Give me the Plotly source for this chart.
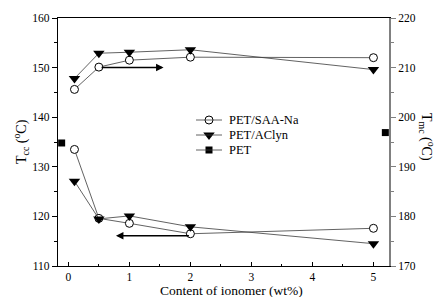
import plotly.graph_objects as go

# Data
content = [0.1, 0.5, 1, 2, 5]
saa_tcc = [133.5, 119.6, 118.6, 116.5, 117.6]
acl_tcc = [127.1, 119.5, 120.1, 117.9, 114.5]
saa_tmc = [205.6, 210.1, 211.5, 212.1, 212.0]
acl_tmc = [207.8, 212.9, 213.1, 213.6, 209.6]
pet_x_left = [-0.11]
pet_tcc = [134.8]
pet_x_right = [5.195]
pet_tmc = [196.9]
series_names = ["PET/SAA-Na", "PET/AClyn", "PET"]

# arrows: (head_x, head_y, tail_x, tail_y) on left axis scale
arrow_right = (1.56, 150.0, 0.52, 150.0)
arrow_left = (0.78, 116.1, 2.0, 116.1)

FONT = "Liberation Serif"
LINE = dict(color="#3a3a3a", width=0.8)
W, H = 436, 297
ML, MR, MT, MB = 58, 47, 18, 31
PW, PH = W - ML - MR, H - MT - MB
X0, X1 = ML, ML + PW      # plot edges in window pixels
Y0, Y1 = MT, MT + PH


def px(x):
    return (x - X0) / PW


def py(y):
    return (Y1 - y) / PH


circle = dict(symbol="circle", size=8, color="white", line=dict(width=1, color="black"))
tri = dict(symbol="triangle-down", size=10, color="black")
sq = dict(symbol="square", size=7, color="black")
markers = [circle, tri, sq]

fig = go.Figure()

common = dict(cliponaxis=False, hoverinfo="skip")
fig.add_trace(go.Scatter(x=content, y=saa_tcc, mode="lines+markers", line=LINE, marker=circle, **common))
fig.add_trace(go.Scatter(x=content, y=acl_tcc, mode="lines+markers", line=LINE, marker=tri, **common))
fig.add_trace(go.Scatter(x=pet_x_left, y=pet_tcc, mode="markers", marker=sq, **common))
fig.add_trace(go.Scatter(x=content, y=saa_tmc, mode="lines+markers", line=LINE, yaxis="y2",
                         marker=circle, **common))
fig.add_trace(go.Scatter(x=content, y=acl_tmc, mode="lines+markers", line=LINE, yaxis="y2",
                         marker=tri, **common))
fig.add_trace(go.Scatter(x=pet_x_right, y=pet_tmc, mode="markers", yaxis="y2", marker=sq, **common))

# manual legend (pixel-space overlay axes)
leg_x0, leg_x1, leg_mx, leg_tx = 196, 222, 209, 227
leg_rows = [120, 135, 150]
shapes = []
annotations = []
for name, mk, ry in zip(series_names, markers, leg_rows):
    shapes.append(dict(type="line", xref="x3", yref="y3", x0=leg_x0, x1=leg_x1, y0=ry, y1=ry,
                       line=dict(color="#3a3a3a", width=0.8)))
    fig.add_trace(go.Scatter(x=[leg_mx], y=[ry], mode="markers", marker=mk,
                             xaxis="x3", yaxis="y3", hoverinfo="skip"))
    annotations.append(dict(text=name, xref="x3", yref="y3", x=leg_tx, y=ry, xanchor="left",
                            yanchor="middle", showarrow=False,
                            font=dict(family=FONT, size=12.5, color="black")))

for (hx, hy, tx, ty) in (arrow_right, arrow_left):
    annotations.append(dict(x=hx, y=hy, ax=tx, ay=ty, xref="x", yref="y", axref="x", ayref="y",
                            showarrow=True, arrowhead=2, arrowsize=1, arrowwidth=1.5,
                            arrowcolor="black", text=""))

annotations.append(dict(text="T<sub>cc</sub> (<sup>o</sup>C)", xref="paper", yref="paper",
                        x=px(21), y=py(142), textangle=-90, showarrow=False,
                        xanchor="center", yanchor="middle",
                        font=dict(family=FONT, size=14, color="black")))
annotations.append(dict(text="T<sub>mc</sub> (<sup>o</sup>C)", xref="paper", yref="paper",
                        x=px(427), y=py(137), textangle=90, showarrow=False,
                        xanchor="center", yanchor="middle",
                        font=dict(family=FONT, size=14, color="black")))
annotations.append(dict(text="Content of ionomer (wt%)", xref="paper", yref="paper",
                        x=px(231), y=py(290), xanchor="center", yanchor="middle", showarrow=False,
                        font=dict(family=FONT, size=13.5, color="black")))

tickfont = dict(family=FONT, size=11.5, color="black")
fig.update_layout(
    width=W, height=H,
    margin=dict(l=ML, r=MR, t=MT, b=MB, pad=0),
    paper_bgcolor="white", plot_bgcolor="white",
    font=dict(family=FONT, size=12, color="black"),
    showlegend=False,
    shapes=shapes,
    annotations=annotations,
    xaxis=dict(range=[-0.17, 5.255], showline=True, linecolor="black", linewidth=1.2, mirror=True,
               tickmode="linear", tick0=0, dtick=1, ticks="inside", ticklen=4, tickcolor="black",
               minor=dict(dtick=0.5, ticks="inside", ticklen=2, tickcolor="black"),
               showgrid=False, zeroline=False, tickfont=tickfont),
    yaxis=dict(range=[110, 160], showline=True, linecolor="black", linewidth=1.2,
               tickmode="linear", tick0=110, dtick=10, ticks="outside", ticklen=5, tickcolor="black",
               minor=dict(dtick=5, ticks="outside", ticklen=3, tickcolor="black"),
               showgrid=False, zeroline=False, tickfont=tickfont),
    yaxis2=dict(range=[170, 220], overlaying="y", side="right", showline=True, linecolor="#808080",
                linewidth=2, tickmode="linear", tick0=170, dtick=10, ticks="outside", ticklen=5,
                tickcolor="#808080",
                minor=dict(dtick=5, ticks="outside", ticklen=3, tickcolor="#808080"),
                showgrid=False, zeroline=False, tickfont=tickfont),
    # overlay pixel-space axes for the legend (window pixel coordinates)
    xaxis3=dict(domain=[0, 1], range=[X0, X1], visible=False, anchor="y3", overlaying="x"),
    yaxis3=dict(domain=[0, 1], range=[Y1, Y0], visible=False, anchor="x3", overlaying="y"),
)

fig.write_html("out.html", config={"displayModeBar": False, "staticPlot": True},
               post_script="document.body.style.margin='0px';document.body.style.overflow='hidden';")
